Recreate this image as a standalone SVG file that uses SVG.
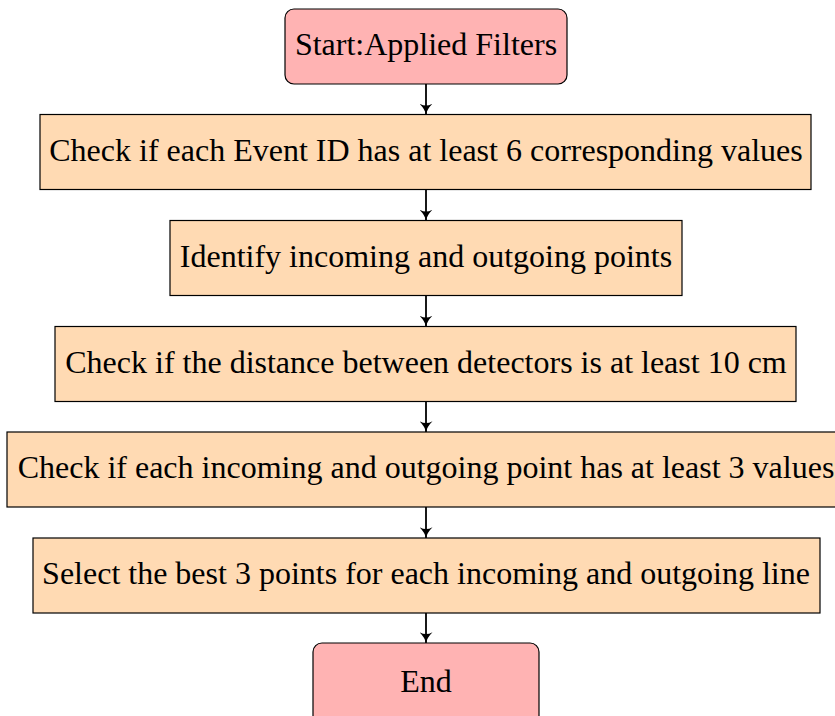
<svg xmlns="http://www.w3.org/2000/svg" width="835" height="716" viewBox="0 0 835 716">
  <defs>
    <marker id="arrow" viewBox="0 0 10 12" refX="10" refY="6" markerWidth="11" markerHeight="13" orient="auto" markerUnits="userSpaceOnUse">
      <path d="M0,0 Q5,5 10,6 Q5,7 0,12 Q3.5,6 0,0 Z" fill="#000"/>
    </marker>
    <style>
      .term { fill: #ffb3b3; stroke: #000; stroke-width: 1.2; }
      .proc { fill: #ffdab3; stroke: #000; stroke-width: 1.2; }
      .lbl { font-family: "Liberation Serif", "Times New Roman", serif; font-size: 32px; fill: #000; text-anchor: middle; }
      .edge { stroke: #000; stroke-width: 1.8; fill: none; marker-end: url(#arrow); }
    </style>
  </defs>
  <rect width="835" height="716" fill="#fff"/>

  <g id="start">
    <rect class="term" x="285" y="9" width="282" height="75" rx="9"/>
    <text class="lbl" x="426" y="55">Start:Applied Filters</text>
  </g>
  <g id="check-event-id">
    <rect class="proc" x="40" y="114.5" width="771" height="75"/>
    <text class="lbl" x="426" y="160.5">Check if each Event ID has at least 6 corresponding values</text>
  </g>
  <g id="identify-points">
    <rect class="proc" x="170" y="220.5" width="512" height="75"/>
    <text class="lbl" x="426" y="266.5">Identify incoming and outgoing points</text>
  </g>
  <g id="check-distance">
    <rect class="proc" x="55" y="326.5" width="741" height="75"/>
    <text class="lbl" x="426" y="372.5">Check if the distance between detectors is at least 10 cm</text>
  </g>
  <g id="check-values">
    <rect class="proc" x="7" y="432" width="840" height="75"/>
    <text class="lbl" x="426" y="477.5">Check if each incoming and outgoing point has at least 3 values</text>
  </g>
  <g id="select-best">
    <rect class="proc" x="33" y="538" width="787" height="75"/>
    <text class="lbl" x="426" y="584">Select the best 3 points for each incoming and outgoing line</text>
  </g>
  <g id="end">
    <rect class="term" x="313" y="643" width="226" height="85" rx="9"/>
    <text class="lbl" x="426" y="692">End</text>
  </g>

  <g id="connectors">
    <line class="edge" x1="426" y1="84" x2="426" y2="114.5"/>
    <line class="edge" x1="426" y1="189.5" x2="426" y2="220.5"/>
    <line class="edge" x1="426" y1="295.5" x2="426" y2="326.5"/>
    <line class="edge" x1="426" y1="401.5" x2="426" y2="432"/>
    <line class="edge" x1="426" y1="507" x2="426" y2="538"/>
    <line class="edge" x1="426" y1="613" x2="426" y2="643"/>
  </g>
</svg>
